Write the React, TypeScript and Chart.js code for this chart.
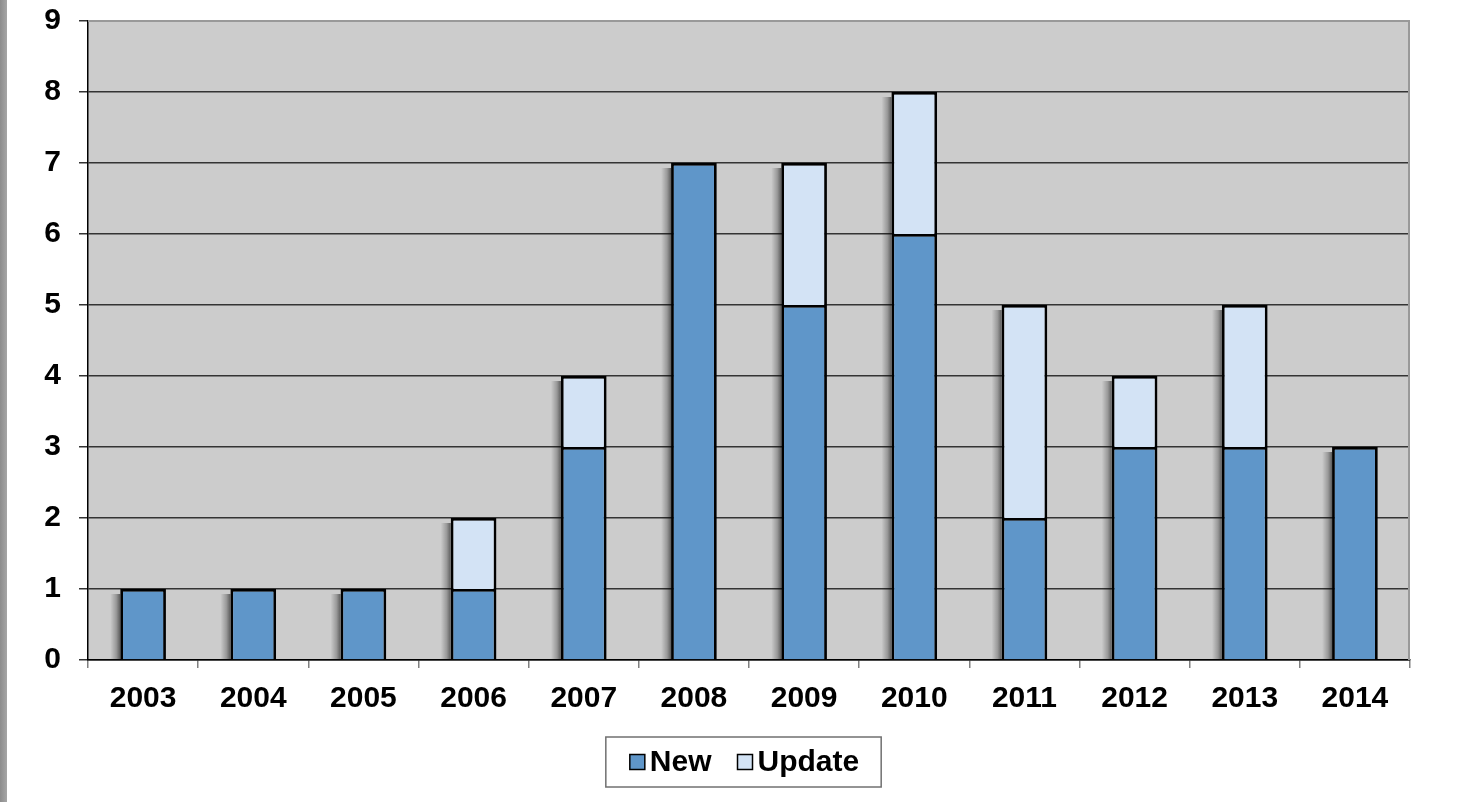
import React, { useEffect, useRef } from 'react';
import { Chart, registerables } from 'chart.js';

Chart.register(...registerables);

const years = ['2003', '2004', '2005', '2006', '2007', '2008', '2009', '2010', '2011', '2012', '2013', '2014'];
const newValues = [1, 1, 1, 1, 3, 7, 5, 6, 2, 3, 3, 3];
const updateValues = [0, 0, 0, 1, 1, 0, 2, 2, 3, 1, 2, 0];
const seriesNames = ['New', 'Update'];
const seriesColors = ['#5F96C9', '#D3E3F5'];
const yMin = 0;
const yMax = 9;

const FONT_FAMILY = '"Liberation Sans", Arial, sans-serif';
const FONT_SIZE = 30;

const plotBgPlugin = {
  id: 'plotBg',
  beforeDraw(chart: any) {
    const { ctx, chartArea } = chart;
    ctx.save();
    ctx.fillStyle = '#CCCCCC';
    ctx.fillRect(chartArea.left, chartArea.top, chartArea.right - chartArea.left, chartArea.bottom - chartArea.top);
    ctx.restore();
  },
  beforeDatasetsDraw(chart: any) {
    const { ctx, chartArea } = chart;
    ctx.save();
    ctx.strokeStyle = '#999999';
    ctx.lineWidth = 2;
    ctx.beginPath();
    ctx.moveTo(chartArea.left, chartArea.top);
    ctx.lineTo(chartArea.right - 1, chartArea.top);
    ctx.lineTo(chartArea.right - 1, chartArea.bottom);
    ctx.stroke();
    const metas = chart.data.datasets.map((_: any, i: number) => chart.getDatasetMeta(i));
    const n = chart.data.labels.length;
    for (let i = 0; i < n; i++) {
      let top = Infinity;
      let base = 0;
      let left = 0;
      metas.forEach((m: any, di: number) => {
        const el = m.data[i];
        if (!el) return;
        const v = chart.data.datasets[di].data[i];
        const p = el.getProps(['x', 'y', 'base', 'width'], true);
        if (di === 0) {
          base = p.base;
          left = p.x - p.width / 2;
        }
        if (v > 0) top = Math.min(top, p.y);
      });
      if (!isFinite(top)) continue;
      const sw = 10;
      const g = ctx.createLinearGradient(left - sw, 0, left, 0);
      g.addColorStop(0, 'rgba(0,0,0,0)');
      g.addColorStop(0.6, 'rgba(0,0,0,0.25)');
      g.addColorStop(1, 'rgba(0,0,0,0.55)');
      ctx.fillStyle = g;
      ctx.fillRect(left - sw, top + 5, sw, base - top - 5);
    }
    ctx.restore();
  },
};

const boxLegendPlugin = {
  id: 'boxLegend',
  afterDraw(chart: any) {
    const { ctx, chartArea } = chart;
    const ds = chart.data.datasets;
    ctx.save();
    ctx.font = `bold ${FONT_SIZE}px ${FONT_FAMILY}`;
    const box = 15;
    const gapText = 5;
    const gapItem = 26;
    const padL = 24;
    const padR = 22;
    const widths = ds.map((d: any) => ctx.measureText(d.label).width);
    let total = padL + padR;
    widths.forEach((w: number, i: number) => {
      total += box + gapText + w + (i < widths.length - 1 ? gapItem : 0);
    });
    const cx = (chartArea.left + chartArea.right) / 2 - 5.5;
    const left = cx - total / 2;
    const top = chartArea.bottom + 77;
    const h = 50;
    ctx.fillStyle = '#FFFFFF';
    ctx.fillRect(left, top, total, h);
    ctx.strokeStyle = '#707070';
    ctx.lineWidth = 1.5;
    ctx.strokeRect(left, top, total, h);
    const cy = top + h / 2;
    let x = left + padL;
    ds.forEach((d: any, i: number) => {
      ctx.fillStyle = d.backgroundColor;
      ctx.fillRect(x, cy - box / 2, box, box);
      ctx.strokeStyle = '#000000';
      ctx.lineWidth = 1.5;
      ctx.strokeRect(x, cy - box / 2, box, box);
      x += box + gapText;
      ctx.fillStyle = '#000000';
      ctx.textBaseline = 'middle';
      ctx.textAlign = 'left';
      ctx.fillText(d.label, x, cy + 1);
      x += widths[i] + gapItem;
    });
    ctx.restore();
  },
};

export default function App() {
  const canvasRef = useRef<HTMLCanvasElement | null>(null);

  useEffect(() => {
    if (!canvasRef.current) return;
    const chart = new Chart(canvasRef.current, {
      type: 'bar',
      data: {
        labels: years,
        datasets: [
          {
            label: seriesNames[0],
            data: newValues,
            backgroundColor: seriesColors[0],
            borderColor: '#000000',
            borderWidth: 2.8,
            borderSkipped: 'start',
            categoryPercentage: 1,
            barPercentage: 0.415,
          },
          {
            label: seriesNames[1],
            data: updateValues,
            backgroundColor: seriesColors[1],
            borderColor: '#000000',
            borderWidth: 2.8,
            borderSkipped: 'start',
            categoryPercentage: 1,
            barPercentage: 0.415,
          },
        ],
      },
      options: {
        responsive: false,
        animation: false,
        devicePixelRatio: 1,
        layout: { padding: { top: 21, right: 57, left: 0, bottom: 72 } },
        plugins: {
          legend: { display: false },
          tooltip: { enabled: false },
        },
        scales: {
          x: {
            stacked: true,
            offset: true,
            grid: {
              offset: true,
              drawOnChartArea: false,
              tickLength: 8,
              color: '#808080',
              lineWidth: 1.5,
            },
            border: { color: '#000000', width: 1.5 },
            ticks: {
              color: '#000000',
              padding: 13,
              maxRotation: 0,
              font: { family: FONT_FAMILY, size: FONT_SIZE, weight: 'bold' },
            },
            afterFit: (s: any) => {
              s.height = 70;
              s.paddingLeft = 0;
              s.paddingRight = 0;
            },
          },
          y: {
            stacked: true,
            min: yMin,
            max: yMax,
            ticks: {
              stepSize: 1,
              color: '#000000',
              padding: 18,
              font: { family: FONT_FAMILY, size: FONT_SIZE, weight: 'bold' },
            },
            grid: {
              tickLength: 9,
              lineWidth: 1.5,
              color: (c: any) => (c.tick && c.tick.value === yMax ? '#999999' : '#333333'),
              tickColor: '#333333',
            },
            border: { color: '#000000', width: 1.5 },
            afterFit: (s: any) => {
              s.width = 88;
              s.paddingTop = 0;
              s.paddingBottom = 0;
            },
          },
        },
      },
      plugins: [plotBgPlugin, boxLegendPlugin],
    });
    return () => chart.destroy();
  }, []);

  return (
    <div style={{ position: 'fixed', left: 0, top: 0, width: 1467, height: 802, background: '#FFFFFF' }}>
      <div style={{ position: 'absolute', left: 0, top: 0, width: 7, height: 802, background: 'linear-gradient(to right, #8c8c8c, #a6a6a6)' }} />
      <canvas ref={canvasRef} width={1467} height={802} style={{ position: 'absolute', left: 0, top: 0, display: 'block' }} />
    </div>
  );
}
